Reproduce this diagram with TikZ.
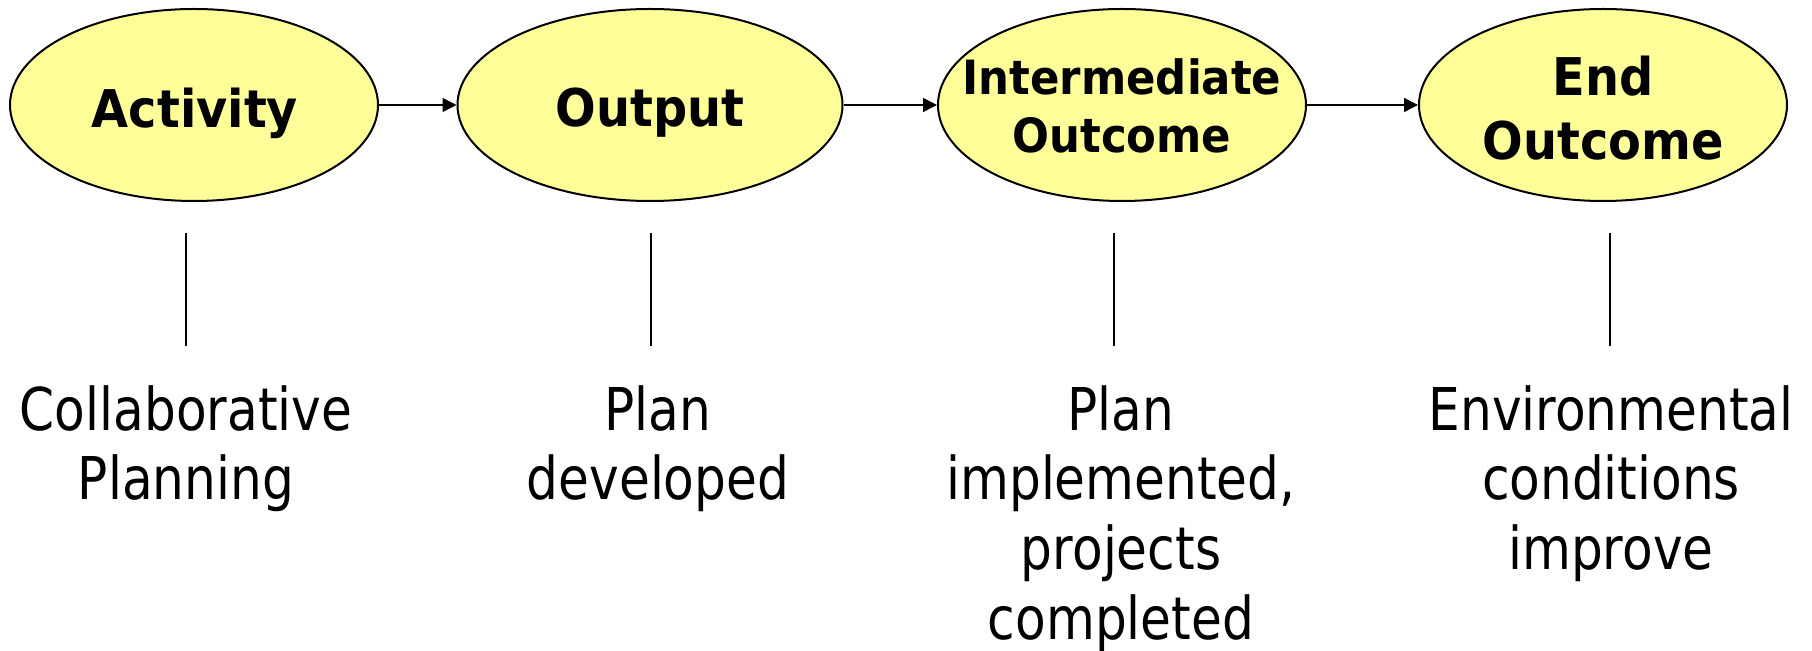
\documentclass[tikz,border=0pt]{standalone}
\usepackage{fontspec}
\usetikzlibrary{shapes.geometric,arrows.meta}
\newfontfamily\headfont{DejaVu Sans}[FakeStretch=0.92]
\newfontfamily\notefont{DejaVu Sans}[FakeStretch=0.85]
\definecolor{ovalfill}{HTML}{FFFF99}
\tikzset{
  oval/.style={ellipse, draw=black, line width=1pt, fill=ovalfill,
    inner sep=0pt, minimum height=96pt},
  head/.style={font=\headfont\bfseries\fontsize{26pt}{31.8pt}\selectfont,
    align=center, inner sep=0pt},
  headsmall/.style={head, font=\headfont\bfseries\fontsize{23.6pt}{29pt}\selectfont},
  note/.style={font=\notefont\fontsize{29.5pt}{34.8pt}\selectfont,
    align=center, anchor=north, inner sep=0pt},
  flow/.style={line width=0.75pt, -{Triangle[length=7pt,width=7pt]}},
  stem/.style={line width=1pt},
}
\begin{document}
\begin{tikzpicture}[x=0.5pt,y=-0.5pt]
\useasboundingbox (0,0) rectangle (1812,651);

% the four stages of the chain
\node[oval, minimum width=184pt]   (act) at (194,105)  {};
\node[oval, minimum width=192.5pt] (out) at (650,105)  {};
\node[oval, minimum width=184pt]   (int) at (1122,105) {};
\node[oval, minimum width=184pt]   (end) at (1603,105) {};

\node[head]      (actT) at (195,113)  {Activity};
\node[head]      (outT) at (650,113)  {Output};
\node[headsmall] (intT) at (1122,106) {Intermediate\\Outcome};
\node[head]      (endT) at (1603,108) {End\\Outcome};

% arrows between stages
\draw[flow] (act) -- (out);
\draw[flow] (out) -- (int);
\draw[flow] (int) -- (end);

% stems down to the examples
\coordinate (s1a) at (186,233);  \coordinate (s1b) at (186,346);
\coordinate (s2a) at (651,233);  \coordinate (s2b) at (651,346);
\coordinate (s3a) at (1114,233); \coordinate (s3b) at (1114,346);
\coordinate (s4a) at (1610,233); \coordinate (s4b) at (1610,346);
\draw[stem] (s1a) -- (s1b);
\draw[stem] (s2a) -- (s2b);
\draw[stem] (s3a) -- (s3b);
\draw[stem] (s4a) -- (s4b);

% examples for each stage
\node[note] (ex1) at (186,385)  {Collaborative\\Planning};
\node[note] (ex2) at (658,385)  {Plan\\developed};
\node[note] (ex3) at (1121,385) {Plan\\implemented,\\projects\\completed};
\node[note] (ex4) at (1611,385) {Environmental\\conditions\\improve};
\end{tikzpicture}
\end{document}
